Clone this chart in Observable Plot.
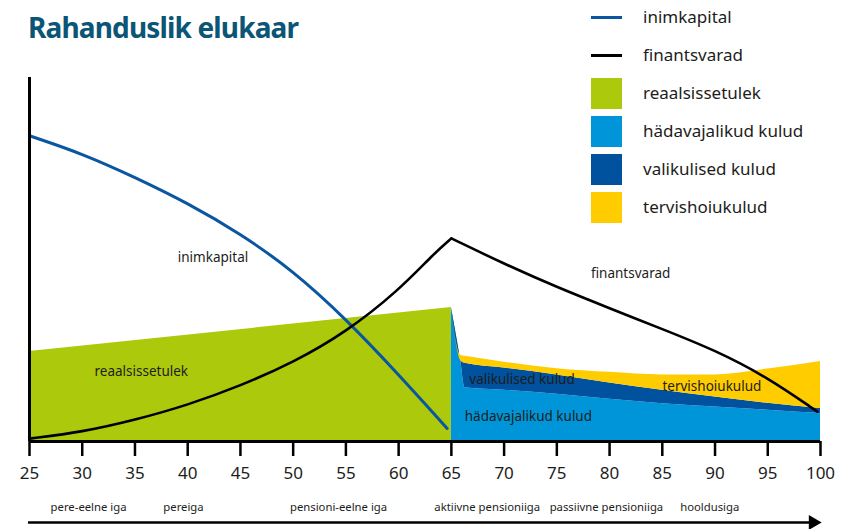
<!DOCTYPE html>
<html>
<head>
<meta charset="utf-8">
<script src="https://cdn.jsdelivr.net/npm/d3@7"></script>
<script src="https://cdn.jsdelivr.net/npm/@observablehq/plot@0.6"></script>
<style>
  html, body { margin: 0; padding: 0; background: #fff; }
  #wrap { position: relative; width: 848px; height: 529px; overflow: hidden; font-family: "Noto Sans", sans-serif; }
  #title { position: absolute; left: 28px; top: 8px; font-family: "Noto Sans", sans-serif; font-weight: 700; font-size: 28px; letter-spacing: -0.85px; color: #0b5576; white-space: nowrap; }
  #legend { position: absolute; left: 591px; top: 0; }
  .lrow { position: absolute; left: 0; height: 31px; width: 250px; }
  .lrow .sw { position: absolute; left: 0; top: 0; width: 31px; height: 31px; }
  .lrow .ln { position: absolute; left: 0; top: 14px; width: 31px; height: 3px; }
  .lrow .tx { position: absolute; left: 52px; top: 3px; font-size: 17px; color: #1d1d1b; white-space: nowrap; line-height: 24px; }
  #chart { position: absolute; left: 0; top: 0; }
</style>
</head>
<body>
<div id="wrap">
  <div id="chart"></div>
  <div id="title">Rahanduslik elukaar</div>
  <div id="legend"></div>
</div>
<script>
// ---- data ----
const ageTicks = [25, 30, 35, 40, 45, 50, 55, 60, 65, 70, 75, 80, 85, 90, 95, 100];

// inimkapital (human capital) line
const inimAges   = [25, 30, 35, 40, 45, 50, 55, 60, 64.6];
const inimValues = [84, 79.1, 72.6, 65.5, 57.1, 46.9, 33.7, 18.4, 3.6];

// finantsvarad (financial assets) line: rising part and falling part
const finRiseAges   = [25, 30, 35, 40, 45, 50, 55, 60, 63.3, 65];
const finRiseValues = [0.8, 2.6, 5.9, 10.0, 15.3, 21.7, 30.0, 41.5, 51.5, 55.8];
const finFallAges   = [65, 70, 75, 80, 85, 90, 95, 99.7];
const finFallValues = [55.8, 48.8, 42.4, 36.6, 30.9, 25.1, 17.6, 8.2];

// reaalsissetulek (real income) area
const reaalAges   = [25, 65];
const reaalValues = [24.7, 36.8];

// retirement expenses (stacked)
const kuluAges     = [65, 65.9, 66.3, 70, 75, 80, 85, 90, 95, 100];
const hadavajalik  = [36.8, 22.0, 14.8, 14.1, 13.0, 11.6, 10.4, 9.5, 8.6, 7.7];
const valikuline   = [0, 0.2, 6.7, 6.1, 5.3, 4.5, 3.7, 2.7, 1.9, 1.4];
const tervishoid   = [0, 1.4, 1.9, 1.6, 1.7, 2.9, 4.2, 6.1, 9.4, 12.9];

const seriesNames  = ["inimkapital", "finantsvarad", "reaalsissetulek", "hädavajalikud kulud", "valikulised kulud", "tervishoiukulud"];
const seriesColors = ["#0a56a0", "#000000", "#adc90c", "#0095d8", "#00519e", "#ffcc00"];
const seriesKinds  = ["line", "line", "box", "box", "box", "box"];

// in-chart labels
const labelTexts = ["inimkapital", "finantsvarad", "reaalsissetulek", "valikulised kulud", "hädavajalikud kulud", "tervishoiukulud"];
const labelAges  = [42.4, 82.0, 35.6, 71.7, 72.3, 89.7];
const labelVals  = [50.4, 46.2, 19.3, 17.0, 6.7, 15.2];

// life periods under the axis
const periodTexts = ["pere-eelne iga", "pereiga", "pensioni-eelne iga", "aktiivne pensioniiga", "passiivne pensioniiga", "hooldusiga"];
const periodAges  = [30.6, 39.6, 54.3, 68.4, 79.7, 89.5];

// ---- build tables ----
const colorOf = name => seriesColors[seriesNames.indexOf(name)];
const inim = inimAges.map((a, i) => ({age: a, v: inimValues[i]}));
const fin = [
  ...finRiseAges.map((a, i) => ({age: a, v: finRiseValues[i], part: "rise"})),
  ...finFallAges.map((a, i) => ({age: a, v: finFallValues[i], part: "fall"}))
];
const reaal = reaalAges.map((a, i) => ({age: a, v: reaalValues[i]}));
const stackOrder = ["hädavajalikud kulud", "valikulised kulud", "tervishoiukulud"];
const stackVals = [hadavajalik, valikuline, tervishoid];
const kulud = stackOrder.flatMap((s, j) => kuluAges.map((a, i) => ({age: a, v: stackVals[j][i], series: s})));
const labels = labelTexts.map((t, i) => ({t, age: labelAges[i], v: labelVals[i]}));
const periods = periodTexts.map((t, i) => ({t, age: periodAges[i]}));
const arrowSpan = [{x1: 24.9, x2: 99.3}];
const arrowHead = [{x: 99.3}];

const chart = Plot.plot({
  width: 848,
  height: 529,
  marginLeft: 29,
  marginRight: 28,
  marginTop: 77,
  marginBottom: 88,
  style: {fontFamily: "Noto Sans, sans-serif", background: "transparent", color: "#1d1d1b"},
  x: {domain: [25, 100]},
  y: {domain: [0, 100], axis: null},
  color: {domain: stackOrder, range: stackOrder.map(colorOf)},
  marks: [
    Plot.areaY(reaal, {x: "age", y: "v", fill: colorOf("reaalsissetulek")}),
    Plot.areaY(kulud, {x: "age", y: "v", z: "series", fill: "series", order: stackOrder, curve: "monotone-x"}),
    Plot.line(inim, {x: "age", y: "v", stroke: colorOf("inimkapital"), strokeWidth: 3, curve: "basis"}),
    Plot.line(fin, {x: "age", y: "v", z: "part", stroke: colorOf("finantsvarad"), strokeWidth: 2.6, curve: "basis"}),
    Plot.ruleY([0], {stroke: "#000", strokeWidth: 3}),
    Plot.ruleX([25], {stroke: "#000", strokeWidth: 3}),
    Plot.axisX({ticks: ageTicks, tickSize: 15, tickPadding: 10, fontSize: 17, strokeWidth: 2.5, stroke: "#000", fill: "#1d1d1b", tickFormat: d => String(d)}),
    Plot.text(labels, {x: "age", y: "v", text: "t", fontSize: 13.5, fill: "#1d1d1b"}),
    Plot.text(periods, {x: "age", text: "t", frameAnchor: "bottom", dy: 69, fontSize: 11.3, fill: "#1d1d1b"}),
    Plot.ruleY(arrowSpan, {x1: "x1", x2: "x2", y: 0, dy: 81, stroke: "#000", strokeWidth: 2.5}),
    Plot.dot(arrowHead, {x: "x", frameAnchor: "bottom", dy: 81, symbol: "triangle", rotate: 90, r: 5.5, fill: "#000", stroke: null})
  ]
});
document.getElementById("chart").appendChild(chart);

// legend
const legend = document.getElementById("legend");
const rowTops = [2, 40, 78, 116, 154, 192];
seriesNames.forEach((name, i) => {
  const row = document.createElement("div");
  row.className = "lrow";
  row.style.top = rowTops[i] + "px";
  const sw = document.createElement("div");
  sw.className = seriesKinds[i] === "line" ? "ln" : "sw";
  sw.style.background = seriesColors[i];
  const tx = document.createElement("div");
  tx.className = "tx";
  tx.textContent = name;
  row.appendChild(sw);
  row.appendChild(tx);
  legend.appendChild(row);
});
</script>
</body>
</html>
